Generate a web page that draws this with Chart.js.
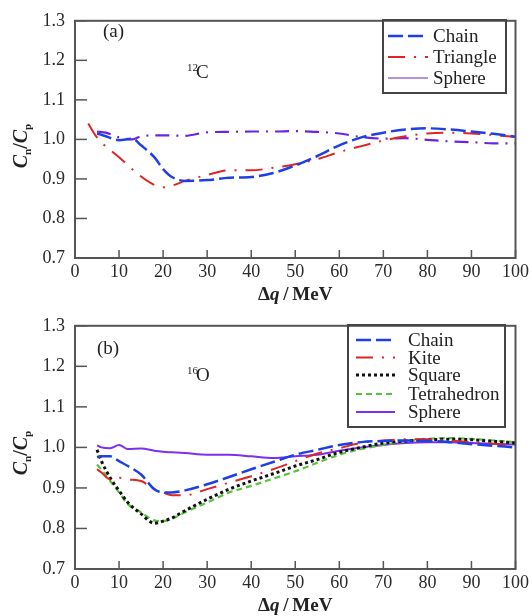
<!DOCTYPE html>
<html>
<head>
<meta charset="utf-8">
<script src="https://cdn.jsdelivr.net/npm/chart.js@4.4.1/dist/chart.umd.min.js"></script>
<style>
  html, body { margin: 0; padding: 0; background: #fff; }
  .panel { position: relative; width: 532px; }
  #panelA { height: 305px; }
  #panelB { height: 311px; }
</style>
</head>
<body>
<div class="panel" id="panelA"><canvas id="chartA"></canvas></div>
<div class="panel" id="panelB"><canvas id="chartB"></canvas></div>
<script>
// --- (a) 12C ---
const qA = [5, 7, 10, 13, 15, 18, 20, 22, 25, 30, 35, 40, 45, 50, 55, 60, 65, 70, 75, 80, 85, 90, 95, 100];
const chainA = [1.015, 1.008, 0.998, 1.002, 0.985, 0.955, 0.925, 0.905, 0.895, 0.897, 0.903, 0.905, 0.915, 0.934, 0.958, 0.985, 1.005, 1.017, 1.025, 1.028, 1.025, 1.02, 1.014, 1.007];
const sphereA = [1.02, 1.017, 1.005, 1.0, 1.008, 1.01, 1.01, 1.01, 1.009, 1.018, 1.019, 1.02, 1.02, 1.021, 1.019, 1.015, 1.006, 1.002, 1.003, 0.999, 0.995, 0.993, 0.99, 0.99];
const qTri = [3, 5, 10, 15, 18, 20, 22, 25, 30, 35, 40, 45, 50, 55, 60, 65, 70, 75, 80, 85, 90, 95, 100];
const triangleA = [1.04, 1.005, 0.955, 0.906, 0.885, 0.879, 0.883, 0.895, 0.91, 0.922, 0.922, 0.928, 0.937, 0.95, 0.968, 0.983, 0.997, 1.008, 1.015, 1.017, 1.015, 1.011, 1.006];

// --- (b) 16O ---
const qB = [5, 6, 8, 10, 12, 15, 18, 20, 22, 25, 30, 35, 40, 45, 50, 55, 60, 65, 70, 75, 80, 85, 90, 95, 100];
const chainB = [0.976, 0.978, 0.978, 0.966, 0.954, 0.933, 0.897, 0.889, 0.889, 0.894, 0.909, 0.927, 0.946, 0.964, 0.982, 0.994, 1.006, 1.013, 1.016, 1.017, 1.016, 1.013, 1.008, 1.004, 1.0];
const kiteB = [0.946, 0.938, 0.921, 0.925, 0.921, 0.917, 0.897, 0.889, 0.882, 0.882, 0.897, 0.913, 0.929, 0.946, 0.966, 0.985, 0.998, 1.011, 1.017, 1.02, 1.02, 1.017, 1.013, 1.009, 1.005];
const squareB = [0.994, 0.966, 0.925, 0.893, 0.864, 0.836, 0.813, 0.818, 0.826, 0.844, 0.872, 0.897, 0.917, 0.935, 0.954, 0.97, 0.988, 1.0, 1.011, 1.016, 1.019, 1.02, 1.019, 1.015, 1.011];
const tetraB = [0.958, 0.945, 0.917, 0.889, 0.86, 0.84, 0.82, 0.818, 0.824, 0.84, 0.864, 0.889, 0.905, 0.923, 0.941, 0.962, 0.982, 0.996, 1.006, 1.015, 1.021, 1.023, 1.021, 1.017, 1.013];
const sphereB = [1.005, 1.0, 0.998, 1.006, 0.996, 0.997, 0.992, 0.989, 0.988, 0.986, 0.982, 0.982, 0.978, 0.974, 0.978, 0.982, 0.992, 1.0, 1.006, 1.011, 1.013, 1.013, 1.011, 1.009, 1.007];

const xTicks = [0, 10, 20, 30, 40, 50, 60, 70, 80, 90, 100];
const yTicks = [0.7, 0.8, 0.9, 1.0, 1.1, 1.2, 1.3];

const SERIF = '"Liberation Serif", "Times New Roman", serif';
const pts = (xs, ys) => xs.map((x, i) => ({ x: x, y: ys[i] }));

function line(label, xs, ys, color, dash, width, legend) {
  return {
    label: label,
    data: pts(xs, ys),
    borderColor: color,
    borderDash: dash,
    borderWidth: width,
    pointRadius: 0,
    fill: false,
    cubicInterpolationMode: 'monotone',
    legendStyle: legend || null
  };
}

// draws a run of text pieces with different fonts / offsets
function drawRuns(ctx, runs, x, y) {
  let total = 0;
  runs.forEach(r => { ctx.font = r.font; r.w = ctx.measureText(r.text).width; total += r.w; });
  let cx = x - total / 2;
  runs.forEach(r => { ctx.font = r.font; ctx.fillText(r.text, cx, y + (r.dy || 0)); cx += r.w; });
}

// frame, inward ticks, axis titles, labels and boxed legend
const framePlugin = {
  id: 'frame',
  afterDraw(chart, args, opts) {
    const { ctx, chartArea: a, scales } = chart;
    ctx.save();
    ctx.strokeStyle = '#555';
    ctx.lineWidth = 1.5;
    scales.y.ticks.forEach(t => {
      const y = scales.y.getPixelForValue(t.value);
      ctx.beginPath(); ctx.moveTo(a.left, y); ctx.lineTo(a.left + 12, y); ctx.stroke();
    });
    scales.x.ticks.forEach(t => {
      const x = scales.x.getPixelForValue(t.value);
      ctx.beginPath(); ctx.moveTo(x, a.bottom); ctx.lineTo(x, a.bottom - 8); ctx.stroke();
    });
    ctx.lineWidth = 2;
    ctx.strokeRect(a.left, a.top, a.right - a.left, a.bottom - a.top);

    ctx.fillStyle = '#222';
    ctx.textBaseline = 'alphabetic';
    ctx.textAlign = 'left';

    // y title  Cn/Cp
    ctx.save();
    ctx.translate(27, opts.yTitleY);
    ctx.rotate(-Math.PI / 2);
    drawRuns(ctx, [
      { text: 'C', font: 'italic bold 20px ' + SERIF },
      { text: 'n', font: 'bold 11px ' + SERIF, dy: 4 },
      { text: '/', font: 'bold 20px ' + SERIF },
      { text: 'C', font: 'italic bold 20px ' + SERIF },
      { text: 'p', font: 'bold 11px ' + SERIF, dy: 4 }
    ], 0, 0);
    ctx.restore();

    // x title  Δq / MeV
    drawRuns(ctx, [
      { text: 'Δ', font: 'bold 19px ' + SERIF },
      { text: 'q', font: 'italic bold 19px ' + SERIF },
      { text: '\u2009/\u2009MeV', font: 'bold 19px ' + SERIF }
    ], (a.left + a.right) / 2, opts.xTitleY);

    // panel tag and nucleus
    ctx.font = '19px ' + SERIF;
    ctx.fillText(opts.tag[0], opts.tag[1], opts.tag[2]);
    ctx.font = '11px ' + SERIF;
    ctx.fillText(opts.mass, opts.nucleus[1] - 9, opts.nucleus[2] - 7);
    ctx.font = '19px ' + SERIF;
    ctx.fillText(opts.nucleus[0], opts.nucleus[1], opts.nucleus[2]);

    // legend box
    const L = opts.legend;
    ctx.strokeStyle = '#444';
    ctx.lineWidth = 2;
    ctx.strokeRect(L.box[0], L.box[1], L.box[2] - L.box[0], L.box[3] - L.box[1]);
    chart.data.datasets.forEach((ds, i) => {
      const y = L.rows[i];
      const st = ds.legendStyle || {};
      ctx.save();
      ctx.strokeStyle = st.color || ds.borderColor;
      ctx.lineWidth = st.width || ds.borderWidth;
      ctx.setLineDash(st.dash || ds.borderDash || []);
      ctx.beginPath(); ctx.moveTo(L.x0, y); ctx.lineTo(L.x1, y); ctx.stroke();
      ctx.restore();
      ctx.font = '19px ' + SERIF;
      ctx.fillStyle = '#222';
      ctx.fillText(ds.label, L.tx, y + 6);
    });
    ctx.restore();
  }
};

function makeOptions(topPad, xH, frame) {
  return {
    responsive: true,
    maintainAspectRatio: false,
    animation: false,
    layout: { padding: { top: topPad, right: 15, left: 0, bottom: 0 } },
    plugins: {
      legend: { display: false },
      tooltip: { enabled: false },
      frame: frame
    },
    scales: {
      x: {
        type: 'linear',
        min: 0,
        max: 100,
        afterFit: s => { s.height = xH; },
        afterBuildTicks: s => { s.ticks = xTicks.map(v => ({ value: v })); },
        grid: { display: false, drawTicks: false },
        border: { display: false },
        ticks: { padding: 3, maxRotation: 0, color: '#2a2a2a', font: { family: SERIF, size: 18 } }
      },
      y: {
        min: 0.7,
        max: 1.3,
        afterFit: s => { s.width = 75; },
        afterBuildTicks: s => { s.ticks = yTicks.map(v => ({ value: v })); },
        grid: { display: false, drawTicks: false },
        border: { display: false },
        ticks: {
          padding: 10,
          color: '#2a2a2a',
          font: { family: SERIF, size: 18 },
          callback: v => Number(v).toFixed(1)
        }
      }
    }
  };
}

new Chart(document.getElementById('chartA'), {
  type: 'line',
  data: {
    datasets: [
      line('Chain', qA, chainA, '#1f3fe6', [15, 5], 2.5),
      line('Triangle', qTri, triangleA, '#e02424', [17, 9, 2, 9], 2),
      line('Sphere', qA, sphereA, '#6a24e0', [14, 7, 2, 7], 2.2, { color: '#9a70d0', dash: [], width: 1.5 })
    ]
  },
  options: makeOptions(13, 47, {
    yTitleY: 146,
    xTitleY: 300,
    tag: ['(a)', 103, 37],
    nucleus: ['C', 196, 78],
    mass: '12',
    legend: { box: [383, 20, 506, 93], rows: [36, 57, 78], x0: 388, x1: 428, tx: 433 }
  }),
  plugins: [framePlugin]
});

new Chart(document.getElementById('chartB'), {
  type: 'line',
  data: {
    datasets: [
      line('Chain', qB, chainB, '#1f3fe6', [15, 5], 2.5),
      line('Kite', qB, kiteB, '#e02424', [17, 9, 2, 9], 2),
      line('Square', qB, squareB, '#111111', [3, 3], 3),
      line('Tetrahedron', qB, tetraB, '#55c43a', [6, 4], 2.2),
      line('Sphere', qB, sphereB, '#7a30ec', [], 2)
    ]
  },
  options: makeOptions(17, 47, {
    yTitleY: 148,
    xTitleY: 306,
    tag: ['(b)', 97, 49],
    nucleus: ['O', 196, 76],
    mass: '16',
    legend: { box: [348, 20, 505, 122], rows: [35, 52.5, 70, 89, 107], x0: 356, x1: 395, tx: 408 }
  }),
  plugins: [framePlugin]
});
</script>
</body>
</html>
